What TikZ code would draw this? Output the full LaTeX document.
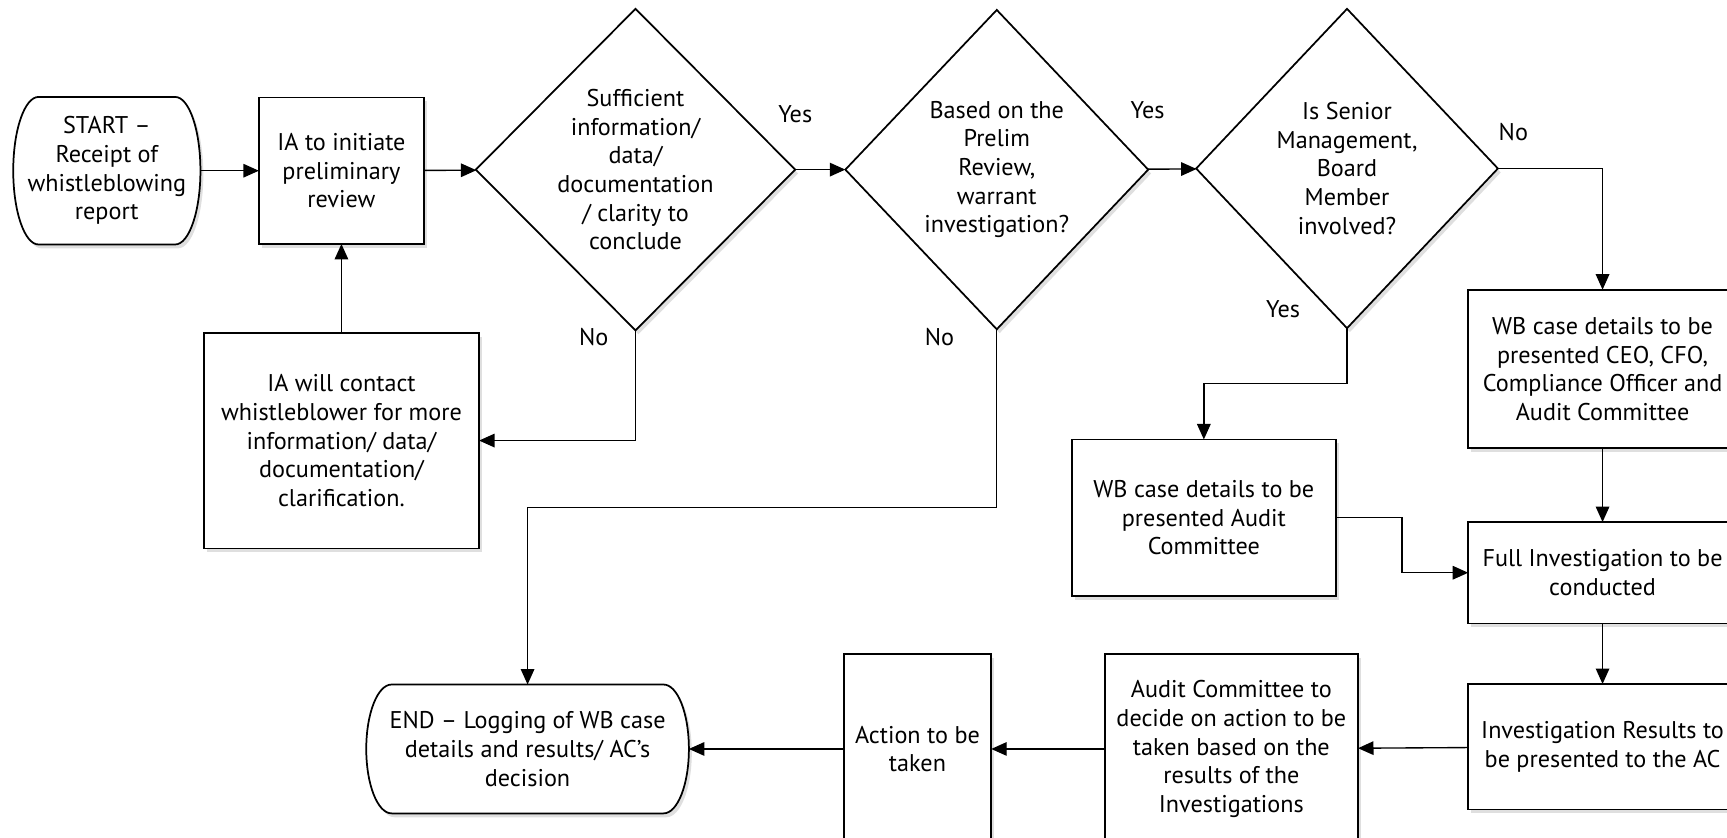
\documentclass[tikz,border=0pt]{standalone}
\usepackage{fontspec}
\setmainfont{PT Sans}
\usetikzlibrary{shapes.geometric, arrows.meta, shadows, backgrounds}

\begin{document}
\begin{tikzpicture}[x=0.02cm, y=-0.02cm,
    font=\fontsize{12.5}{14.8}\selectfont,
    flowshade/.style={drop shadow={opacity=0.25, shadow xshift=1.5pt, shadow yshift=-2pt}},
    stepbox/.style={draw, line width=0.9pt, fill=white, flowshade, align=center, inner sep=1pt, outer sep=0pt},
    query/.style={stepbox, diamond, inner sep=0pt, aspect=1},
    terminal/.style={align=center, inner sep=0pt, outer sep=0pt},
    link/.style={line width=0.7pt, -{Triangle[length=8pt, width=7pt]}}]

  \useasboundingbox (0,0) rectangle (1568,760);
  \clip (0,0) rectangle (1568,760);

  % top row
  \node[terminal, minimum width=3.4cm, minimum height=2.68cm] (start) at (97,155) {START –\\Receipt of\\whistleblowing\\report};
  \node[stepbox, minimum width=3cm, minimum height=2.66cm] (init) at (310,155) {IA to initiate\\preliminary\\review};
  \node[query, minimum width=5.8cm, minimum height=5.84cm] (dec1) at (577,154) {Sufficient\\information/\\data/\\documentation\\/ clarity to\\conclude};
  \node[query, minimum width=5.5cm, minimum height=5.8cm] (dec2) at (905,154) {Based on the\\Prelim\\Review,\\warrant\\investigation?};
  \node[query, minimum width=5.48cm, minimum height=5.8cm] (dec3) at (1223,153) {Is Senior\\Management,\\Board\\Member\\involved?};

  % middle
  \node[stepbox, minimum width=5cm, minimum height=3.92cm] (contact) at (310,400) {IA will contact\\whistleblower for more\\information/ data/\\documentation/\\clarification.};
  \node[stepbox, minimum width=4.88cm, minimum height=2.88cm] (ceo) at (1455,335) {WB case details to be\\presented CEO, CFO,\\Compliance Officer and\\Audit Committee};
  \node[stepbox, minimum width=4.8cm, minimum height=2.84cm] (wbac) at (1093,470) {WB case details to be\\presented Audit\\Committee};
  \node[stepbox, minimum width=4.88cm, minimum height=1.84cm] (full) at (1455,520) {Full Investigation to be\\conducted};

  % bottom row
  \node[stepbox, minimum width=4.88cm, minimum height=2.28cm] (results) at (1455,678) {Investigation Results to\\be presented to the AC};
  \node[stepbox, minimum width=4.6cm, minimum height=3.44cm] (decide) at (1118,680) {Audit Committee to\\decide on action to be\\taken based on the\\results of the\\Investigations};
  \node[stepbox, minimum width=2.68cm, minimum height=3.44cm] (action) at (833,680) {Action to be\\taken};
  \node[terminal, minimum width=5.86cm, minimum height=2.34cm] (finish) at (479,680) {END – Logging of WB case\\details and results/ AC’s\\decision};

  % rounded ends of the two terminals
  \begin{scope}[on background layer]
    \draw[line width=0.9pt, fill=white, flowshade] ([xshift=0.46cm]start.north west) -- ([xshift=-0.46cm]start.north east)
      arc[start angle=90, end angle=-90, x radius=0.46cm, y radius=1.34cm] -- ([xshift=0.46cm]start.south west)
      arc[start angle=270, end angle=90, x radius=0.46cm, y radius=1.34cm] -- cycle;
    \draw[line width=0.9pt, fill=white, flowshade] ([xshift=0.46cm]finish.north west) -- ([xshift=-0.46cm]finish.north east)
      arc[start angle=90, end angle=-90, x radius=0.46cm, y radius=1.17cm] -- ([xshift=0.46cm]finish.south west)
      arc[start angle=270, end angle=90, x radius=0.46cm, y radius=1.17cm] -- cycle;
  \end{scope}

  % answers
  \node at (722,104) {Yes};
  \node at (539,306) {No};
  \node at (1042,100) {Yes};
  \node at (853,306) {No};
  \node at (1165,281) {Yes};
  \node at (1374,120) {No};

  % connectors
  \draw[link] (start) -- (init);
  \draw[link] (init) -- (dec1);
  \draw[link] (dec1.south) |- (contact.east);
  \draw[link] (contact) -- (init);
  \draw[link] (dec1) -- (dec2);
  \draw[link] (dec2.south) -- ++(0,162) -| (finish.north);
  \draw[link] (dec2) -- (dec3);
  \draw[link] (dec3.east) -| (ceo.north);
  \draw[link] (dec3.south) -- ++(0,50) -| (wbac.north);
  \draw[link] (wbac.east) -- ++(60,0) |- (full.west);
  \draw[link] (ceo) -- (full);
  \draw[link] (full) -- (results);
  \draw[link] (results) -- (decide);
  \draw[link] (decide) -- (action);
  \draw[link] (action) -- (finish);
\end{tikzpicture}
\end{document}
